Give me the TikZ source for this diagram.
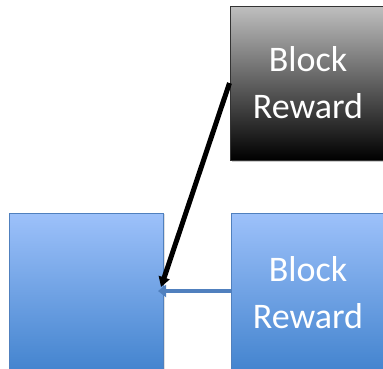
\documentclass[tikz,border=0pt]{standalone}
\usepackage{fontspec}
\setmainfont{Carlito}
\usetikzlibrary{shadows,arrows.meta}
\definecolor{boxtop}{RGB}{157,193,250}
\definecolor{boxbot}{RGB}{66,131,206}
\definecolor{boxline}{RGB}{80,128,190}
\tikzset{
  bluebox/.style={draw=boxline, line width=1pt, top color=boxtop, bottom color=boxbot,
    minimum width=154pt, minimum height=160pt, text=white, align=center,
    font=\fontsize{36pt}{47pt}\selectfont,
    drop shadow={shadow xshift=1pt, shadow yshift=-1pt, opacity=0.25}},
  blackbox/.style={draw=black!80, line width=1pt, top color=black!25, bottom color=black,
    minimum width=156pt, minimum height=154pt, text=white, align=center,
    font=\fontsize{36pt}{47pt}\selectfont,
    drop shadow={shadow xshift=2pt, shadow yshift=-2pt, opacity=0.4}}
}
\begin{document}
\begin{tikzpicture}[x=1pt,y=-1pt]

		\useasboundingbox (0,0) rectangle (383,368);

		\node (reward1) at (308,83) [blackbox] {Block\\Reward};
		\node (block) at (86.5,293) [bluebox] {};
		\node (reward2) at (308,293) [bluebox] {Block\\Reward};

		\draw[-{Triangle[length=10pt,width=11pt]}, line width=5pt, black] (reward1.west) -- ([shift={(-3pt,6pt)}]block.east);
		\draw[-{Triangle[length=8pt,width=12pt]}, line width=4.5pt, boxline] ([yshift=2pt]reward2.west) -- ([shift={(-6pt,2pt)}]block.east);

		\end{tikzpicture}
\end{document}
